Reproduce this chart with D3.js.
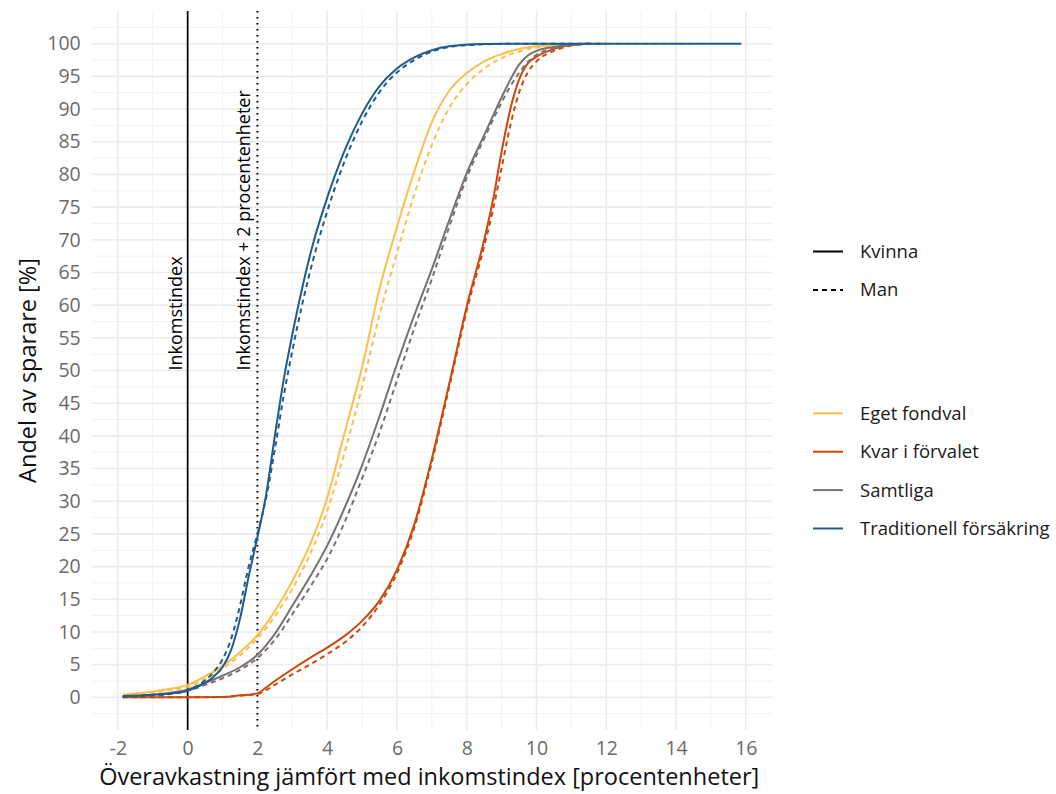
<!DOCTYPE html>
<html>
<head>
<meta charset="utf-8">
<script src="https://cdn.jsdelivr.net/npm/d3@7"></script>
<style>
	body { margin: 0; background: #fff; }
	svg { display: block; font-family: "Open Sans", Lato, sans-serif; }
</style>
</head>
<body>
<script>
// ---------------------------- data -----------------------------------
// [overavkastning, andel %] per kategori och kön

var egetKvinna = [[-1.86, 0.4], [-1, 0.9], [-0.5, 1.3], [0, 1.9], [0.5, 3.2], [1, 4.8], [1.5, 6.9], [2, 9.5], [2.5, 13.2], [3, 17.8], [3.5, 23.3], [4, 30.5], [4.5, 40.5], [5, 50.5], [5.5, 62.5], [6, 72], [6.5, 80.5], [7, 88], [7.5, 92.8], [8, 95.5], [8.5, 97.3], [9, 98.4], [9.5, 99.2], [10, 99.6], [10.5, 99.85], [11, 99.95], [12, 100]];
var egetMan = [[-1.86, 0.3], [-1, 0.7], [-0.5, 1.1], [0, 1.6], [0.5, 2.8], [1, 4.4], [1.5, 6.4], [2, 9], [2.5, 12.4], [3, 16.6], [3.5, 21.8], [4, 28.5], [4.5, 37.5], [5, 47.5], [5.5, 58.5], [6, 68], [6.5, 77], [7, 84.5], [7.5, 90.2], [8, 93.8], [8.5, 96.2], [9, 97.8], [9.5, 98.8], [10, 99.4], [10.5, 99.75], [11, 99.9], [12, 99.97], [14.4, 100]];

var kvarKvinna = [[-1.86, 0], [-1, 0], [0, 0], [1, 0.05], [1.5, 0.3], [2, 0.6], [2.25, 1.5], [2.5, 2.5], [3, 4.3], [3.5, 6], [4, 7.6], [4.5, 9.4], [5, 11.7], [5.5, 14.8], [6, 19.5], [6.5, 26.5], [7, 36.5], [7.5, 48], [8, 59.8], [8.5, 70], [8.75, 76], [9, 83.5], [9.25, 90], [9.5, 94.5], [9.75, 97], [10, 98], [10.5, 99.2], [11, 99.8], [11.5, 100]];
var kvarMan = [[-1.86, 0], [-1, 0], [0, 0], [1, 0.05], [1.5, 0.25], [2, 0.5], [2.25, 1.1], [2.5, 1.9], [3, 3.5], [3.5, 5], [4, 6.6], [4.5, 8.4], [5, 10.8], [5.5, 14.2], [6, 19], [6.5, 26], [7, 36], [7.5, 47.5], [8, 59.2], [8.5, 69], [8.75, 74.5], [9, 81], [9.25, 87.5], [9.5, 92.5], [9.75, 95.6], [10, 97.3], [10.5, 98.9], [11, 99.7], [11.5, 100]];

var samtligaKvinna = [[-1.86, 0.15], [-1, 0.4], [0, 1.2], [0.5, 2.2], [1, 3.3], [1.5, 4.6], [2, 6.5], [2.5, 9.7], [3, 14], [3.5, 18.4], [4, 23.2], [4.5, 29], [5, 35.5], [5.5, 43], [6, 51], [6.5, 58.5], [7, 65.5], [7.5, 73], [8, 80.2], [8.5, 86], [9, 91.8], [9.25, 94.5], [9.5, 96.8], [9.75, 98.2], [10, 98.9], [10.5, 99.5], [11, 99.85], [11.5, 100]];
var samtligaMan = [[-1.86, 0.1], [-1, 0.3], [0, 1.0], [0.5, 1.9], [1, 2.9], [1.5, 4.2], [2, 6], [2.5, 8.8], [3, 12.7], [3.5, 16.8], [4, 21.2], [4.5, 26.8], [5, 33.5], [5.5, 40.5], [6, 48.5], [6.5, 56.5], [7, 64], [7.5, 72], [8, 79.5], [8.5, 85.5], [9, 91], [9.25, 93.5], [9.5, 95.5], [9.75, 97.2], [10, 98.3], [10.5, 99.3], [11, 99.8], [11.5, 100]];

var tradKvinna = [[-1.86, 0.2], [-1, 0.4], [-0.5, 0.6], [0, 1.0], [0.5, 2.2], [0.75, 3.2], [1, 4.6], [1.25, 7.3], [1.5, 12], [1.75, 18.5], [2, 24.5], [2.25, 31], [2.5, 40], [2.75, 48.5], [3, 55.5], [3.3, 63], [3.6, 69.5], [3.9, 74.8], [4.2, 79.5], [4.55, 84.3], [5, 89.3], [5.5, 93.5], [6, 96.2], [6.5, 97.9], [7, 99], [7.5, 99.6], [8.5, 99.95], [9.5, 100], [15.87, 100]];
var tradMan = [[-1.86, 0.1], [-1, 0.3], [-0.5, 0.5], [0, 1.1], [0.5, 2.6], [0.75, 3.9], [1, 5.8], [1.25, 9], [1.5, 14], [1.75, 20], [2, 25], [2.25, 30.5], [2.5, 38], [2.75, 46], [3, 53], [3.3, 60.5], [3.6, 67], [3.9, 72.6], [4.2, 77.6], [4.55, 82.7], [5, 88.1], [5.5, 92.6], [6, 95.6], [6.5, 97.5], [7, 98.8], [7.5, 99.5], [8.5, 99.9], [9.5, 100], [12, 100]];

var categories = ['Eget fondval', 'Kvar i förvalet', 'Samtliga', 'Traditionell försäkring'];
var genders = ['Kvinna', 'Man'];
var xTicks = [-2, 0, 2, 4, 6, 8, 10, 12, 14, 16];
var yTicks = [0, 5, 10, 15, 20, 25, 30, 35, 40, 45, 50, 55, 60, 65, 70, 75, 80, 85, 90, 95, 100];

var series = [
	{ cat: 'Eget fondval', gender: 'Kvinna', values: egetKvinna },
	{ cat: 'Eget fondval', gender: 'Man', values: egetMan },
	{ cat: 'Kvar i förvalet', gender: 'Kvinna', values: kvarKvinna },
	{ cat: 'Kvar i förvalet', gender: 'Man', values: kvarMan },
	{ cat: 'Samtliga', gender: 'Kvinna', values: samtligaKvinna },
	{ cat: 'Samtliga', gender: 'Man', values: samtligaMan },
	{ cat: 'Traditionell försäkring', gender: 'Kvinna', values: tradKvinna },
	{ cat: 'Traditionell försäkring', gender: 'Man', values: tradMan }
];

// ---------------------------- d3 -----------------------------------

var width = 1056, height = 794;
var panel = { left: 91.7, right: 772.7, top: 11, bottom: 730 };

var color = d3.scaleOrdinal()
	.domain(categories)
	.range(['#FBBF4C', '#CB470C', '#7A7070', '#1E5C8D']);
var dash = d3.scaleOrdinal().domain(genders).range(['none', '5,4']);

var x = d3.scaleLinear().domain([-2.75, 16.77]).range([panel.left, panel.right]);
var y = d3.scaleLinear().domain([-5, 105]).range([panel.bottom, panel.top]);

var svg = d3.select('body').append('svg').attr('width', width).attr('height', height);

// grid
var grid = svg.append('g');
grid.selectAll('.ymin').data(d3.range(-2.5, 105, 5)).enter().append('line')
	.attr('x1', panel.left).attr('x2', panel.right)
	.attr('y1', function(d) { return y(d); }).attr('y2', function(d) { return y(d); })
	.attr('stroke', '#F2F2F2').attr('stroke-width', 1);
grid.selectAll('.xmin').data(d3.range(-1, 17, 2)).enter().append('line')
	.attr('y1', panel.top).attr('y2', panel.bottom)
	.attr('x1', function(d) { return x(d); }).attr('x2', function(d) { return x(d); })
	.attr('stroke', '#F2F2F2').attr('stroke-width', 1);
grid.selectAll('.ymaj').data(yTicks).enter().append('line')
	.attr('x1', panel.left).attr('x2', panel.right)
	.attr('y1', function(d) { return y(d); }).attr('y2', function(d) { return y(d); })
	.attr('stroke', '#EBEBEB').attr('stroke-width', 1.6);
grid.selectAll('.xmaj').data(xTicks).enter().append('line')
	.attr('y1', panel.top).attr('y2', panel.bottom)
	.attr('x1', function(d) { return x(d); }).attr('x2', function(d) { return x(d); })
	.attr('stroke', '#EBEBEB').attr('stroke-width', 1.6);

// axes (labels only, theme_minimal style)
var fmt = function(d) { return String(d); };
var xAxis = svg.append('g').attr('transform', 'translate(0,' + (panel.bottom + 4) + ')')
	.call(d3.axisBottom(x).tickValues(xTicks).tickFormat(fmt).tickSize(0).tickPadding(7));
var yAxis = svg.append('g').attr('transform', 'translate(' + (panel.left - 10) + ',0)')
	.call(d3.axisLeft(y).tickValues(yTicks).tickFormat(fmt).tickSize(0).tickPadding(1));
[xAxis, yAxis].forEach(function(a) {
	a.select('.domain').remove();
	a.selectAll('text').attr('fill', '#6B6B6B').style('font-size', '19.5px').style('font-family', '"Open Sans", sans-serif');
});

// reference lines
svg.append('line').attr('x1', x(0)).attr('x2', x(0)).attr('y1', panel.top).attr('y2', panel.bottom)
	.attr('stroke', '#000').attr('stroke-width', 1.7);
svg.append('line').attr('x1', x(2)).attr('x2', x(2)).attr('y1', panel.top).attr('y2', panel.bottom)
	.attr('stroke', '#000').attr('stroke-width', 2).attr('stroke-dasharray', '1.6,4.4');

svg.append('text').attr('transform', 'translate(' + (x(0) - 6) + ',' + y(50) + ') rotate(-90)')
	.text('Inkomstindex').style('font-size', '18px').attr('fill', '#000');
svg.append('text').attr('transform', 'translate(' + (x(2) - 7) + ',' + y(50) + ') rotate(-90)')
	.text('Inkomstindex + 2 procentenheter').style('font-size', '18px').attr('fill', '#000');

// curves
var line = d3.line()
	.x(function(d) { return x(d[0]); })
	.y(function(d) { return y(d[1]); })
	.curve(d3.curveMonotoneX);

svg.append('g').selectAll('path').data(series).enter().append('path')
	.attr('d', function(d) { return line(d.values); })
	.attr('fill', 'none')
	.attr('stroke', function(d) { return color(d.cat); })
	.attr('stroke-width', 2)
	.attr('stroke-dasharray', function(d) { return dash(d.gender); });

// axis titles
svg.append('text').attr('x', (panel.left + panel.right) / 2 - 3).attr('y', 785)
	.attr('text-anchor', 'middle').style('font-size', '23.5px').attr('fill', '#111')
	.text('Överavkastning jämfört med inkomstindex [procentenheter]');
svg.append('text').attr('transform', 'translate(36,' + (panel.top + panel.bottom) / 2 + ') rotate(-90)')
	.attr('text-anchor', 'middle').style('font-size', '23.5px').attr('fill', '#111')
	.text('Andel av sparare [%]');

// legends
var legendGender = svg.append('g').selectAll('g').data(genders).enter().append('g')
	.attr('transform', function(d, i) { return 'translate(813,' + (251.5 + i * 38.5) + ')'; });
legendGender.append('line').attr('x1', 0).attr('x2', 30)
	.attr('stroke', '#000').attr('stroke-width', 2)
	.attr('stroke-dasharray', function(d) { return dash(d); });
legendGender.append('text').attr('x', 47).attr('dy', '0.35em')
	.style('font-size', '18.5px').attr('fill', '#1A1A1A').text(function(d) { return d; });

var legendCat = svg.append('g').selectAll('g').data(categories).enter().append('g')
	.attr('transform', function(d, i) { return 'translate(813,' + (413.3 + i * 38.4) + ')'; });
legendCat.append('line').attr('x1', 0).attr('x2', 30)
	.attr('stroke', function(d) { return color(d); }).attr('stroke-width', 2);
legendCat.append('text').attr('x', 47).attr('dy', '0.35em')
	.style('font-size', '18.5px').attr('fill', '#1A1A1A').text(function(d) { return d; });
</script>
</body>
</html>
